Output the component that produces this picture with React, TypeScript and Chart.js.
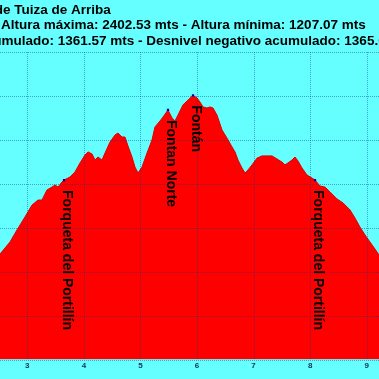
import React, { useEffect, useRef } from "react";
import { Chart, registerables } from "chart.js";

Chart.register(...registerables);

// Profile samples: distance (km) and elevation (m)
const distanceKm = [
  2.252, 2.517, 2.694, 2.818, 2.959, 3.083, 3.189, 3.26, 3.348, 3.437, 3.49, 3.543, 3.613, 3.649,
  3.755, 3.843, 3.932, 4.02, 4.073, 4.144, 4.197, 4.25, 4.32, 4.374, 4.462, 4.55, 4.603, 4.674,
  4.727, 4.78, 4.851, 4.904, 4.957, 5.028, 5.116, 5.204, 5.257, 5.346, 5.399, 5.487, 5.558, 5.611,
  5.664, 5.752, 5.841, 5.929, 6.0, 6.053, 6.106, 6.177, 6.23, 6.283, 6.353, 6.442, 6.53, 6.619,
  6.672, 6.725, 6.795, 6.848, 6.901, 6.972, 7.061, 7.149, 7.237, 7.326, 7.414, 7.502, 7.555,
  7.608, 7.679, 7.732, 7.785, 7.856, 7.944, 8.033, 8.086, 8.174, 8.263, 8.351, 8.475, 8.581,
  8.705, 8.793, 8.881, 8.97, 9.058, 9.146, 9.217, 9.5,
];
const elevationM = [
  1585, 1680, 1735, 1790, 1849, 1903, 1926, 1926, 1972, 1985, 1995, 1985, 2008, 2017,
  2031, 2054, 2095, 2131, 2145, 2136, 2108, 2122, 2108, 2140, 2190, 2222, 2231, 2213,
  2213, 2172, 2122, 2076, 2049, 2076, 2140, 2199, 2259, 2286, 2304, 2336, 2300, 2286,
  2313, 2359, 2381, 2402.53, 2391, 2372, 2350, 2345, 2350, 2345, 2313, 2245, 2208, 2168,
  2145, 2108, 2072, 2049, 2063, 2086, 2117, 2127, 2127, 2127, 2113, 2099, 2086,
  2095, 2108, 2122, 2104, 2072, 2040, 2026, 2017, 1990, 1985, 1963, 1931, 1913,
  1881, 1844, 1803, 1767, 1735, 1703, 1676, 1562,
];

// Waypoints
const waypointNames = ["Forqueta del Portillín", "Fontan Norte", "Fontán", "Forqueta del Portillín"];
const waypointKm = [3.649, 5.487, 5.929, 8.086];
const waypointElev = [2017, 2336, 2402.53, 2017];

// Axes
const xTicks = [3, 4, 5, 6, 7, 8, 9];
const yGrid = [1200, 1400, 1600, 1800, 2000, 2200, 2400, 2600];
const xMin = 2.5174;
const xMax = 9.217;
const yMin = 1200;
const yMax = 2600;

// Title lines (partially outside the visible frame)
const titlePrefix1 = "Perfil de la ruta: Fontán desd";
const titleLine1 = "Perfil de la ruta: Fontán desde Tuiza de Arriba";
const titleLine2 = "Altura máxima: 2402.53 mts - Altura mínima: 1207.07 mts";
const titlePrefix3 = "Desnivel positivo acu";
const titleLine3 = "Desnivel positivo acumulado: 1361.57 mts - Desnivel negativo acumulado: 1365.03 mts";

const FONT = "'Liberation Sans', Arial, sans-serif";

const bgPlugin = {
  id: "bgFill",
  beforeDraw(chart: any) {
    const ctx = chart.ctx;
    ctx.save();
    ctx.fillStyle = "#66ffff";
    ctx.fillRect(0, 0, chart.width, chart.height);
    ctx.restore();
  },
};

const overlayPlugin = {
  id: "overlay",
  afterDatasetsDraw(chart: any) {
    const { ctx, chartArea, scales } = chart;
    const xs = scales.x;
    const ys = scales.y;
    ctx.save();
    ctx.strokeStyle = "rgba(0,60,140,0.45)";
    ctx.lineWidth = 1;
    ctx.setLineDash([1, 1]);
    for (const v of xTicks) {
      const px = Math.round(xs.getPixelForValue(v)) + 0.5;
      ctx.beginPath();
      ctx.moveTo(px, chartArea.top);
      ctx.lineTo(px, chartArea.bottom);
      ctx.stroke();
    }
    for (const v of yGrid) {
      const py = Math.round(ys.getPixelForValue(v)) + 0.5;
      ctx.beginPath();
      ctx.moveTo(chartArea.left, py);
      ctx.lineTo(chartArea.right, py);
      ctx.stroke();
    }
    ctx.setLineDash([]);

    // waypoint labels, vertical
    ctx.fillStyle = "#000000";
    ctx.font = `bold 14px ${FONT}`;
    ctx.textAlign = "left";
    ctx.textBaseline = "alphabetic";
    for (let i = 0; i < waypointNames.length; i++) {
      const px = xs.getPixelForValue(waypointKm[i]);
      const py = ys.getPixelForValue(waypointElev[i]);
      ctx.save();
      ctx.translate(px - 1, py + 10);
      ctx.rotate(Math.PI / 2);
      ctx.fillText(waypointNames[i], 0, 0);
      ctx.restore();
    }
    ctx.restore();
  },
  afterDraw(chart: any) {
    const ctx = chart.ctx;
    ctx.save();
    ctx.fillStyle = "#000000";
    ctx.font = `bold 13.5px ${FONT}`;
    ctx.textAlign = "left";
    ctx.textBaseline = "alphabetic";
    const x1 = 3 - ctx.measureText(titlePrefix1).width;
    ctx.fillText(titleLine1, x1, 13.5);
    ctx.fillText(titleLine2, 1, 29);
    const x3 = 1.5 - ctx.measureText(titlePrefix3).width;
    ctx.fillText(titleLine3, x3, 44.5);
    ctx.restore();
  },
};

export default function App() {
  const canvasRef = useRef<HTMLCanvasElement | null>(null);

  useEffect(() => {
    const canvas = canvasRef.current;
    if (!canvas) return;
    const profile = distanceKm.map((d, i) => ({ x: d, y: elevationM[i] }));
    const points = waypointKm.map((d, i) => ({ x: d, y: waypointElev[i] }));
    const chart = new Chart(canvas, {
      type: "line",
      data: {
        datasets: [
          {
            label: "Puntos",
            data: points,
            showLine: false,
            pointStyle: "rect",
            pointRadius: 1.6,
            pointBackgroundColor: "#0000b0",
            pointBorderWidth: 0,
            order: 0,
          },
          {
            label: "Perfil",
            data: profile,
            fill: "start",
            backgroundColor: "#ff0000",
            borderColor: "#e00000",
            borderWidth: 1,
            pointRadius: 0,
            tension: 0,
            order: 1,
          },
        ],
      },
      options: {
        responsive: false,
        maintainAspectRatio: false,
        animation: false,
        devicePixelRatio: 1,
        layout: { autoPadding: false, padding: { top: 52, left: 0, right: 0, bottom: 0 } },
        plugins: {
          legend: { display: false },
          tooltip: { enabled: false },
          title: { display: false },
        },
        scales: {
          x: {
            type: "linear",
            min: xMin,
            max: xMax,
            grid: { display: false, drawTicks: false },
            border: { display: false },
            afterBuildTicks: (scale: any) => {
              scale.ticks = xTicks.map((v) => ({ value: v }));
            },
            afterFit: (scale: any) => {
              scale.height = 19.5;
            },
            ticks: {
              autoSkip: false,
              maxRotation: 0,
              padding: 1.5,
              color: "#113355",
              font: { family: FONT, size: 8, weight: "bold" },
              callback: (v: any) => String(v),
            },
          },
          y: {
            type: "linear",
            display: false,
            min: yMin,
            max: yMax,
          },
        },
      },
      plugins: [bgPlugin, overlayPlugin],
    } as any);
    return () => chart.destroy();
  }, []);

  return (
    <div style={{ position: "fixed", left: 0, top: 0, width: 379, height: 379 }}>
      <canvas ref={canvasRef} width={379} height={379} style={{ display: "block", width: 379, height: 379 }} />
    </div>
  );
}
